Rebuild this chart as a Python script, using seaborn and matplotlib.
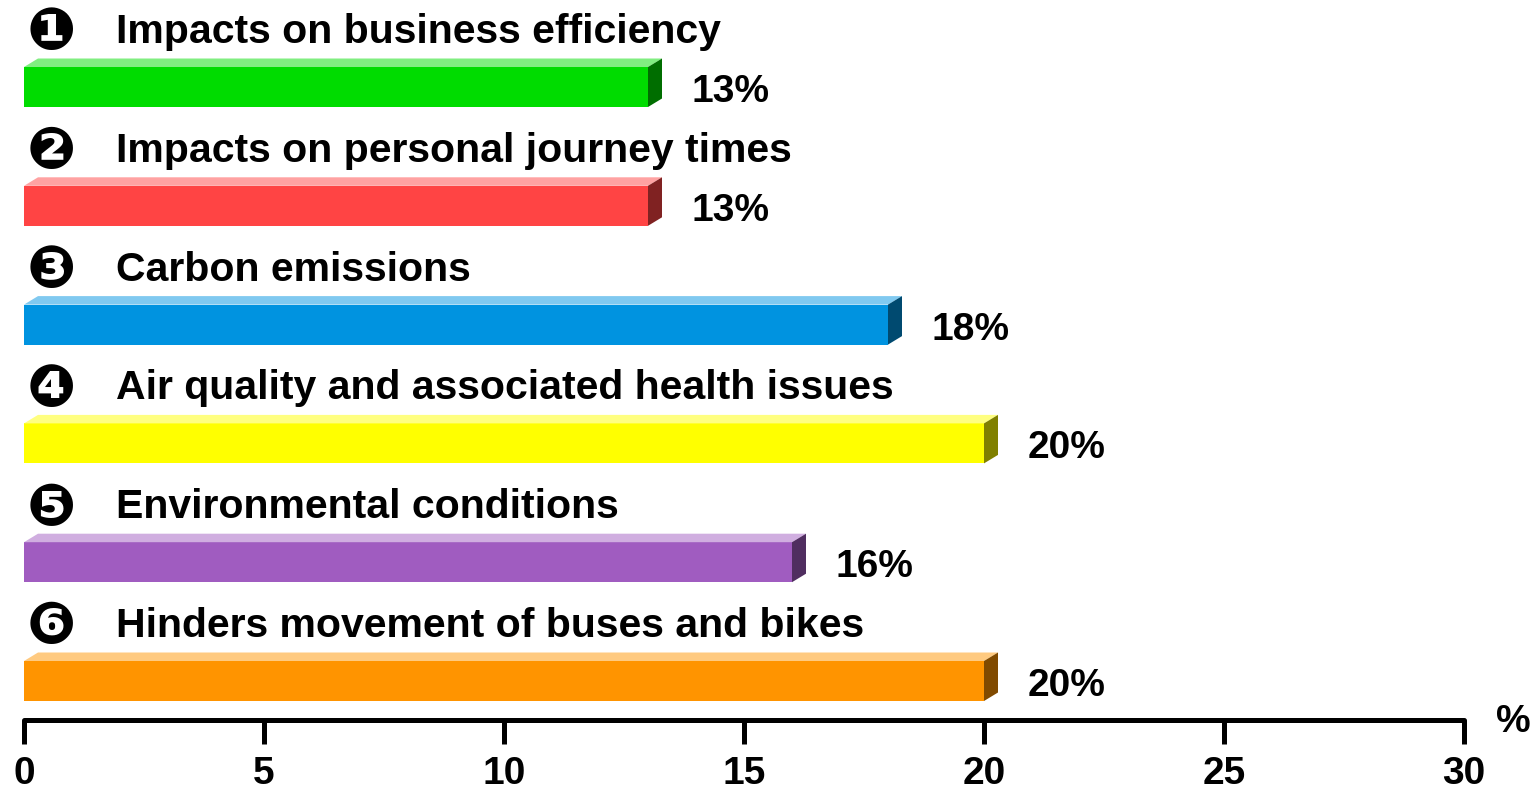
import matplotlib
matplotlib.use("Agg")
import matplotlib.pyplot as plt
import seaborn as sns
import numpy as np
from matplotlib.patches import Polygon
from matplotlib.colors import to_rgb

categories = [
    "Impacts on business efficiency",
    "Impacts on personal journey times",
    "Carbon emissions",
    "Air quality and associated health issues",
    "Environmental conditions",
    "Hinders movement of buses and bikes",
]
values = [13, 13, 18, 20, 16, 20]
markers = ["\u2776", "\u2777", "\u2778", "\u2779", "\u277A", "\u277B"]
colors = ["#00DC00", "#FF4444", "#0093E0", "#FFFF00", "#A05CC0", "#FF9400"]
xticks = [0, 5, 10, 15, 20, 25, 30]

sns.set_theme(style="white")
plt.rcParams["font.family"] = ["Liberation Sans", "DejaVu Sans"]
plt.rcParams["text.color"] = "black"
plt.rcParams["xtick.color"] = "black"

W, H, DPI = 1539, 792, 100
fig = plt.figure(figsize=(W / DPI, H / DPI), dpi=DPI)
ax = fig.add_axes([24 / W, (H - 720) / H, 1440 / W, 720 / H])

sns.barplot(x=values, y=categories, hue=categories, palette=colors, legend=False,
            orient="h", width=40 / 118.8, ax=ax, edgecolor="none", linewidth=0,
            saturation=1)

ax.set_xlim(0, 30)
ax.set_ylim((720 - 87) / 118.8, -87 / 118.8)

ddx = 14 * 30 / 1440
ddy = 8.5 / 118.8

patches = sorted(ax.patches, key=lambda p: p.get_y())
for i, p in enumerate(patches):
    c = np.array(to_rgb(colors[i]))
    top = 0.5 * c + 0.5
    side = 0.5 * c
    x0, x1 = p.get_x(), p.get_x() + p.get_width()
    yt = p.get_y()
    yb = p.get_y() + p.get_height()
    ax.add_patch(Polygon([(x0, yt), (x1, yt), (x1 + ddx, yt - ddy), (x0 + ddx, yt - ddy)],
                         closed=True, facecolor=top, edgecolor="none", zorder=3))
    ax.add_patch(Polygon([(x1, yt), (x1 + ddx, yt - ddy), (x1 + ddx, yb - ddy), (x1, yb)],
                         closed=True, facecolor=side, edgecolor="none", zorder=3))
    yc = yt + p.get_height() / 2
    ax.annotate(categories[i], xy=(0, yc), xytext=(92, 44), textcoords="offset pixels",
                ha="left", va="baseline", fontsize=29.5, fontweight="bold", color="black",
                annotation_clip=False)
    ax.annotate(markers[i], xy=(0, yc), xytext=(27, 54), textcoords="offset pixels",
                ha="center", va="center", fontsize=42, fontweight="bold", color="black",
                family=["DejaVu Sans"], annotation_clip=False)
    ax.annotate(f"{values[i]}%", xy=(x1, yc), xytext=(44, -15), textcoords="offset pixels",
                ha="left", va="baseline", fontsize=28, fontweight="bold", color="black",
                annotation_clip=False)

for s in ["left", "top", "right"]:
    ax.spines[s].set_visible(False)
ax.spines["bottom"].set_color("black")
ax.spines["bottom"].set_linewidth(3.6)
ax.spines["bottom"].set_capstyle("round")
ax.set_xticks(xticks)
ax.set_xticklabels([str(t) for t in xticks], fontsize=28, fontweight="bold", color="black")
ax.tick_params(axis="x", direction="out", length=17, width=3.6, color="black",
               pad=9, bottom=True, labelcolor="black")
ax.set_yticks([])
ax.set_ylabel("")
ax.set_xlabel("")
ax.patch.set_alpha(0)
for t in ax.xaxis.get_major_ticks():
    t.tick1line.set_solid_capstyle("round")

ax.annotate("%", xy=(30, (720 - 87) / 118.8), xytext=(49, -2), textcoords="offset pixels",
            ha="center", va="center", fontsize=28, fontweight="bold", color="black",
            annotation_clip=False)

fig.savefig("out.png", dpi=DPI)
